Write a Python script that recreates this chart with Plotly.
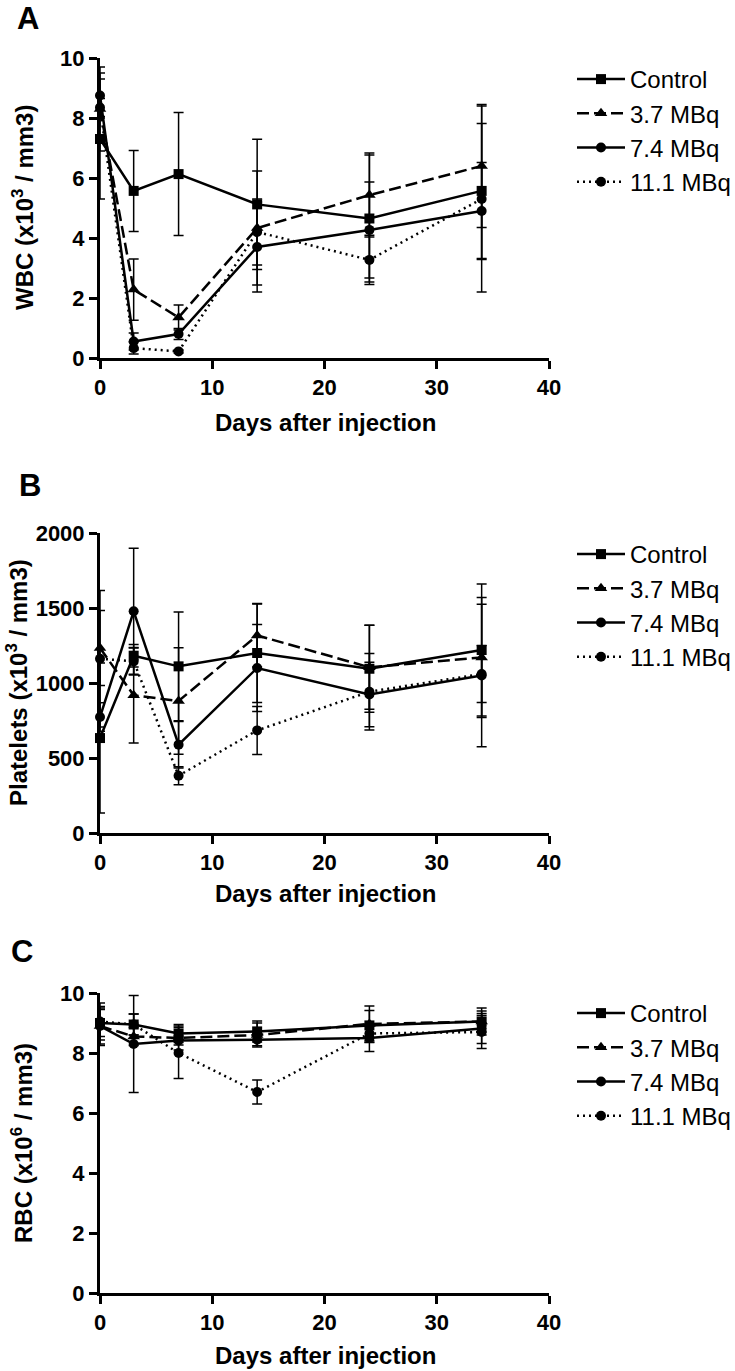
import plotly.graph_objects as go

days = [0, 3, 7, 14, 24, 34]
series_names = ["Control", "3.7 MBq", "7.4 MBq", "11.1 MBq"]

# Panel A: WBC (x10^3 / mm3)
wbc_control = [7.3, 5.57, 6.13, 5.12, 4.65, 5.57]
wbc_control_err = [2.0, 1.35, 2.05, 2.17, 2.12, 2.25]
wbc_37 = [8.3, 2.28, 1.35, 4.33, 5.43, 6.4]
wbc_37_err = [1.4, 1.02, 0.42, 1.9, 1.4, 2.05]
wbc_74 = [8.75, 0.55, 0.8, 3.7, 4.27, 4.9]
wbc_74_err = [0.75, 0.28, 0.18, 1.5, 1.6, 1.62]
wbc_111 = [8.35, 0.33, 0.22, 4.2, 3.27, 5.3]
wbc_111_err = [0.3, 0.2, 0.05, 1.1, 0.82, 3.1]

# Panel B: Platelets (x10^3 / mm3)
plt_control = [633, 1182, 1111, 1200, 1095, 1220]
plt_control_err = [500, 75, 362, 330, 290, 440]
plt_37 = [1233, 918, 880, 1317, 1105, 1170]
plt_37_err = [250, 318, 355, 210, 280, 400]
plt_74 = [773, 1478, 589, 1100, 924, 1050]
plt_74_err = [95, 420, 155, 290, 215, 475]
plt_111 = [1162, 1144, 382, 684, 942, 1060]
plt_111_err = [455, 90, 60, 160, 255, 190]

# Panel C: RBC (x10^6 / mm3)
rbc_control = [9.0, 8.95, 8.65, 8.72, 8.92, 9.05]
rbc_control_err = [0.45, 0.35, 0.3, 0.35, 0.5, 0.45]
rbc_37 = [8.9, 8.55, 8.5, 8.6, 8.97, 9.05]
rbc_37_err = [0.65, 0.3, 0.4, 0.4, 0.6, 0.35]
rbc_74 = [8.9, 8.3, 8.42, 8.44, 8.5, 8.82]
rbc_74_err = [0.6, 1.62, 0.15, 0.2, 0.45, 0.5]
rbc_111 = [9.05, 8.95, 8.0, 6.7, 8.65, 8.7]
rbc_111_err = [0.62, 0.35, 0.85, 0.4, 0.3, 0.55]

x_ticks = [0, 10, 20, 30, 40]

FONT = "Arial, Liberation Sans, sans-serif"

styles = [
    dict(dash="solid", symbol="square", size=10),
    dict(dash="12px,5px", symbol="triangle-up", size=11),
    dict(dash="solid", symbol="circle", size=10),
    dict(dash="2px,4px", symbol="circle", size=10),
]

panels = [
    ("x", "y", "legend", [wbc_control, wbc_37, wbc_74, wbc_111],
     [wbc_control_err, wbc_37_err, wbc_74_err, wbc_111_err]),
    ("x2", "y2", "legend2", [plt_control, plt_37, plt_74, plt_111],
     [plt_control_err, plt_37_err, plt_74_err, plt_111_err]),
    ("x3", "y3", "legend3", [rbc_control, rbc_37, rbc_74, rbc_111],
     [rbc_control_err, rbc_37_err, rbc_74_err, rbc_111_err]),
]

fig = go.Figure()
for xa, ya, lg, vals, errs in panels:
    for name, v, e, st in zip(series_names, vals, errs, styles):
        fig.add_trace(go.Scatter(
            x=days, y=v, name=name, mode="lines+markers",
            xaxis=xa, yaxis=ya, legend=lg, cliponaxis=False,
            line=dict(color="black", width=2.5, dash=st["dash"]),
            marker=dict(color="black", symbol=st["symbol"], size=st["size"]),
            error_y=dict(type="data", array=e, visible=True, color="black",
                         thickness=1.5, width=5),
        ))

# pixel geometry
W, H = 735, 1371
L, R, T, B = 100, 549, 58, 1293
PH = B - T


def py(p):
    return (B - p) / PH


def px(p):
    return (p - L) / (R - L)


axis_common = dict(showline=True, linecolor="black", linewidth=3, ticks="outside",
                   ticklen=8, tickwidth=3, tickcolor="black", showgrid=False,
                   zeroline=False,
                   tickfont=dict(family=FONT, size=22, color="black", weight="bold"))

doms = [(py(358), py(58)), (py(833), py(533)), (py(1293), py(993))]
yranges = [([0, 10], 2), ([0, 2000], 500), ([0, 10], 2)]

layout = dict(
    width=W, height=H, paper_bgcolor="white", plot_bgcolor="white",
    margin=dict(l=L, r=W - R, t=T, b=H - B, autoexpand=False),
    font=dict(family=FONT, color="black"),
)
for i, ((d0, d1), (yr, dt)) in enumerate(zip(doms, yranges)):
    sfx = "" if i == 0 else str(i + 1)
    layout["xaxis" + sfx] = dict(axis_common, domain=[0, 1], range=[0, 40],
                                 tickvals=x_ticks, anchor="y" + sfx)
    layout["yaxis" + sfx] = dict(axis_common, domain=[d0, d1], range=yr,
                                 dtick=dt, anchor="x" + sfx)

legend_tops = [57, 532, 991]
for i, top in enumerate(legend_tops):
    key = "legend" if i == 0 else "legend%d" % (i + 1)
    layout[key] = dict(x=px(572), xanchor="left", y=py(top), yanchor="top",
                       font=dict(family=FONT, size=24, color="black"),
                       bgcolor="rgba(0,0,0,0)", tracegroupgap=0, itemwidth=48)

fig.update_layout(**layout)

annotations = []
letters = [("A", 28, 19), ("B", 30, 485), ("C", 22, 951)]
for t, cx, cy in letters:
    annotations.append(dict(text="<b>%s</b>" % t, x=px(cx), y=py(cy), xref="paper",
                            yref="paper", xanchor="center", yanchor="middle",
                            showarrow=False, font=dict(family=FONT, size=31)))
ytitles = [("WBC (x10<sup>3</sup> / mm3)", 23, 208),
           ("Platelets (x10<sup>3</sup> / mm3)", 17, 683),
           ("RBC (x10<sup>6</sup> / mm3)", 22, 1143)]
for t, cx, cy in ytitles:
    annotations.append(dict(text="<b>%s</b>" % t, x=px(cx), y=py(cy), xref="paper",
                            yref="paper", xanchor="center", yanchor="middle",
                            textangle=-90, showarrow=False,
                            font=dict(family=FONT, size=24)))
for cy in [422, 893, 1355]:
    annotations.append(dict(text="<b>Days after injection</b>", x=px(325), y=py(cy),
                            xref="paper", yref="paper", xanchor="center",
                            yanchor="middle", showarrow=False,
                            font=dict(family=FONT, size=24)))
fig.update_layout(annotations=annotations)

fig.write_html("out.html", config={"displayModeBar": False},
               post_script="document.body.style.margin='0';document.body.style.padding='0';")
